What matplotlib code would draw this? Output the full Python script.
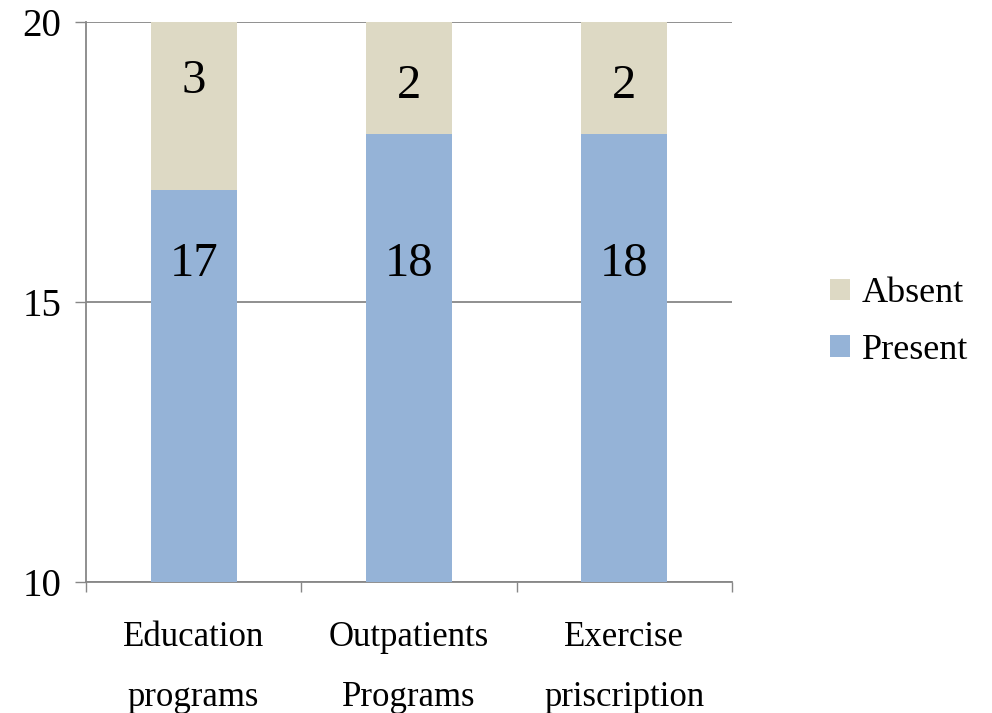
import matplotlib
matplotlib.use("Agg")
import matplotlib.pyplot as plt
import numpy as np

categories = ["Education\nprograms", "Outpatients\nPrograms", "Exercise\npriscription"]
present = [17, 18, 18]
absent = [3, 2, 2]
yticks = [10, 15, 20]

plt.rcParams['font.family'] = ['Liberation Serif', 'DejaVu Serif']

fig = plt.figure(figsize=(9.92, 7.13), dpi=100)
ax = fig.add_axes([86/992, 1-582/713, (732-86)/992, (582-22)/713])

c_present = "#95B3D7"
c_absent = "#DDD9C4"
grid_c = "#878787"

x = np.arange(len(categories))
w = 0.4
ax.bar(x, present, w, color=c_present, label="Present", zorder=3)
ax.bar(x, absent, w, bottom=present, color=c_absent, label="Absent", zorder=3)

for i in range(len(categories)):
    # present label sits at a fixed height of the visible plot area
    ax.text(x[i], 0.568, str(present[i]), transform=ax.get_xaxis_transform(),
            ha="center", va="center", fontsize=35, zorder=4)
    ax.text(x[i], present[i] + absent[i] - 1.05 - (0.1 if absent[i] < 3 else 0.0),
            str(absent[i]), ha="center", va="center", fontsize=35, zorder=4)

ax.set_xlim(-0.5, len(categories) - 0.5)
ax.set_ylim(10, 20)
ax.set_yticks(yticks)
ax.yaxis.grid(True, color=grid_c, linewidth=1.3, zorder=0)
ax.set_xticks(x)
ax.set_xticklabels(categories, fontsize=25, linespacing=2.1)
ax.tick_params(axis='x', length=0, pad=28)
ax.set_xticks(np.arange(-0.5, len(categories), 1.0), minor=True)
ax.tick_params(axis='x', which='minor', length=7.5, width=1.0, color=grid_c, direction='out')
ax.tick_params(axis='y', labelsize=28, length=8, width=1.0, color=grid_c, pad=10)

for s in ["top", "right"]:
    ax.spines[s].set_visible(False)
for s in ["left", "bottom"]:
    ax.spines[s].set_color(grid_c)
    ax.spines[s].set_linewidth(1.3)

handles, labels = ax.get_legend_handles_labels()
leg = fig.legend(handles[::-1], labels[::-1], loc="center left",
                 bbox_to_anchor=(830/992, 1-322/713), frameon=False,
                 fontsize=26, handlelength=0.55, handleheight=0.55,
                 handletextpad=0.33, labelspacing=0.65, borderaxespad=0,
                 borderpad=0)

fig.savefig("out.png", dpi=100)
